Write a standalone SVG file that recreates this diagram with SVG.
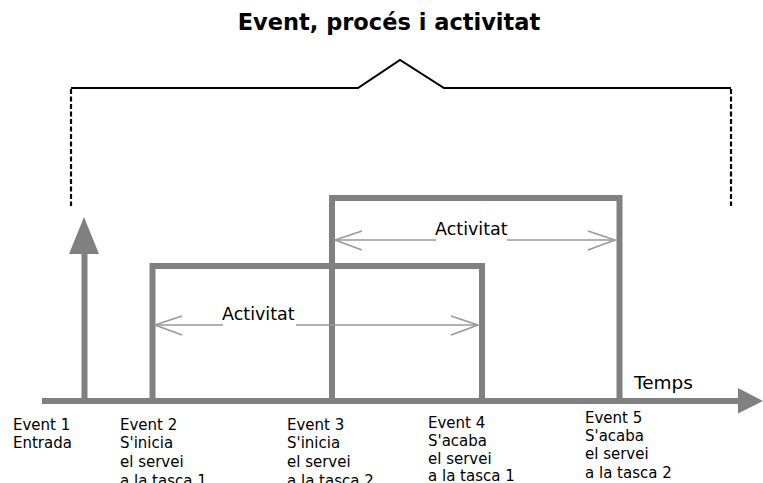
<svg xmlns="http://www.w3.org/2000/svg" width="763" height="483" viewBox="0 0 763 483">
  <defs>
    <style>
      .title { font-family: "DejaVu Sans", Verdana, sans-serif; font-weight: bold; font-size: 22.5px; fill: #000; }
      .lbl { font-family: "DejaVu Sans", Verdana, sans-serif; font-size: 15px; fill: #000; }
      .act { font-family: "DejaVu Sans", Verdana, sans-serif; font-size: 17.5px; fill: #000; }
      .thick { fill: none; stroke: #808080; stroke-width: 6; }
      .thin { fill: none; stroke: #999999; stroke-width: 1.6; }
      .brace { fill: none; stroke: #000; stroke-width: 2; }
      .dash { fill: none; stroke: #000; stroke-width: 2.2; stroke-dasharray: 5 2.5; }
      .head { fill: #808080; }
    </style>
  </defs>

  <text class="title" x="389" y="30" text-anchor="middle">Event, procés i activitat</text>

  <!-- brace spanning the whole process -->
  <g id="brace">
    <polyline class="brace" points="71,88 358,88 400,60 444,88 731,88"/>
    <line class="dash" x1="71" y1="89" x2="71" y2="206"/>
    <line class="dash" x1="731" y1="89" x2="731" y2="206"/>
  </g>

  <!-- activity boxes -->
  <g id="task1">
    <polyline class="thick" points="152.5,401 152.5,266 482,266 482,401"/>
  </g>
  <g id="task2">
    <polyline class="thick" points="332,401 332,198 619.5,198 619.5,401"/>
  </g>

  <g id="connectors">
    <!-- time axis -->
    <line class="thick" x1="42" y1="401" x2="739" y2="401"/>
    <polygon class="head" points="738,388 763,401 738,413.5"/>
    <!-- entry arrow -->
    <line class="thick" x1="84.5" y1="401" x2="84.5" y2="252"/>
    <polygon class="head" points="69,254 84,217 99,254"/>
    <!-- activity span, task 2 -->
    <line class="thin" x1="335" y1="240" x2="436" y2="240"/>
    <line class="thin" x1="507" y1="240" x2="615" y2="240"/>
    <polyline class="thin" points="362,231 335,240 362,250"/>
    <polyline class="thin" points="588,231 615,240 588,250"/>
    <!-- activity span, task 1 -->
    <line class="thin" x1="155" y1="325" x2="223" y2="325"/>
    <line class="thin" x1="296" y1="325" x2="478" y2="325"/>
    <polyline class="thin" points="182,316 155,325 182,335"/>
    <polyline class="thin" points="451,316 478,325 451,335"/>
  </g>

  <text class="act" x="435" y="235">Activitat</text>
  <text class="act" x="222" y="320">Activitat</text>
  <text class="act" x="634" y="389" style="font-size:18.5px">Temps</text>

  <g id="event1">
    <text class="lbl" x="13" y="430">Event 1</text>
    <text class="lbl" x="13" y="448">Entrada</text>
  </g>
  <g id="event2">
    <text class="lbl" x="120" y="430">Event 2</text>
    <text class="lbl" x="120" y="448">S'inicia</text>
    <text class="lbl" x="120" y="467">el servei</text>
    <text class="lbl" x="120" y="486">a la tasca 1</text>
  </g>
  <g id="event3">
    <text class="lbl" x="287" y="430">Event 3</text>
    <text class="lbl" x="287" y="448">S'inicia</text>
    <text class="lbl" x="287" y="467">el servei</text>
    <text class="lbl" x="287" y="486">a la tasca 2</text>
  </g>
  <g id="event4">
    <text class="lbl" x="428" y="428">Event 4</text>
    <text class="lbl" x="428" y="446">S'acaba</text>
    <text class="lbl" x="428" y="464">el servei</text>
    <text class="lbl" x="428" y="481">a la tasca 1</text>
  </g>
  <g id="event5">
    <text class="lbl" x="585" y="423">Event 5</text>
    <text class="lbl" x="585" y="441">S'acaba</text>
    <text class="lbl" x="585" y="459">el servei</text>
    <text class="lbl" x="585" y="478">a la tasca 2</text>
  </g>
</svg>
